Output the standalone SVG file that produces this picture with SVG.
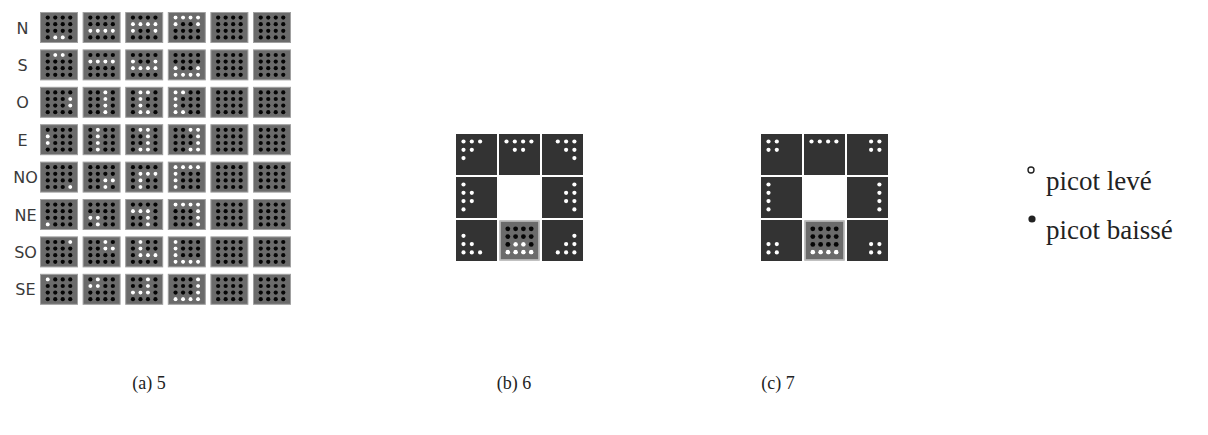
<svg xmlns="http://www.w3.org/2000/svg" width="1208" height="435" viewBox="0 0 1208 435">
<style>
.cell{fill:#6b6b6b;stroke:#a0a0a0;stroke-width:1}
.k{fill:#050505}
.w{fill:#ffffff}
.dk{fill:#333333}
.pw{fill:#ffffff}
.lbl{font-family:"DejaVu Sans",sans-serif;font-size:16px;fill:#3a3a3a;text-anchor:middle}
.cap{font-family:"Liberation Serif",serif;font-size:18px;fill:#222;text-anchor:middle}
.leg{font-family:"Liberation Serif",serif;font-size:27px;fill:#222}
</style>
<defs>
<g id="cb">
<rect x="0.5" y="0.5" width="37" height="30" class="cell"/>
<g class="k">
<circle cx="7.75" cy="5.6" r="2.1"/><circle cx="15.25" cy="5.6" r="2.1"/><circle cx="22.75" cy="5.6" r="2.1"/><circle cx="30.25" cy="5.6" r="2.1"/>
<circle cx="7.75" cy="12.2" r="2.1"/><circle cx="15.25" cy="12.2" r="2.1"/><circle cx="22.75" cy="12.2" r="2.1"/><circle cx="30.25" cy="12.2" r="2.1"/>
<circle cx="7.75" cy="18.8" r="2.1"/><circle cx="15.25" cy="18.8" r="2.1"/><circle cx="22.75" cy="18.8" r="2.1"/><circle cx="30.25" cy="18.8" r="2.1"/>
<circle cx="7.75" cy="25.4" r="2.1"/><circle cx="15.25" cy="25.4" r="2.1"/><circle cx="22.75" cy="25.4" r="2.1"/><circle cx="30.25" cy="25.4" r="2.1"/>
</g>
</g>
<g id="sq">
<rect x="0.5" y="0.5" width="39" height="39" class="cell"/>
<g class="k">
<circle cx="8.3" cy="8.3" r="2.4"/><circle cx="16.1" cy="8.3" r="2.4"/><circle cx="23.9" cy="8.3" r="2.4"/><circle cx="31.7" cy="8.3" r="2.4"/>
<circle cx="8.3" cy="16.1" r="2.4"/><circle cx="16.1" cy="16.1" r="2.4"/><circle cx="23.9" cy="16.1" r="2.4"/><circle cx="31.7" cy="16.1" r="2.4"/>
<circle cx="8.3" cy="23.9" r="2.4"/><circle cx="16.1" cy="23.9" r="2.4"/><circle cx="23.9" cy="23.9" r="2.4"/><circle cx="31.7" cy="23.9" r="2.4"/>
<circle cx="8.3" cy="31.7" r="2.4"/><circle cx="16.1" cy="31.7" r="2.4"/><circle cx="23.9" cy="31.7" r="2.4"/><circle cx="31.7" cy="31.7" r="2.4"/>
</g>
</g>
<rect id="db" width="41" height="41" class="dk"/>
</defs>
<rect width="1208" height="435" fill="#fff"/>

<g id="panel-a">
<g id="row-N">
<text class="lbl" x="22.5" y="33.5">N</text>
<g transform="translate(40,12)"><use href="#cb"/><g class="w"><circle cx="15.25" cy="25.4" r="2.1"/><circle cx="22.75" cy="25.4" r="2.1"/></g></g>
<g transform="translate(82.6,12)"><use href="#cb"/><g class="w"><circle cx="7.75" cy="18.8" r="2.1"/><circle cx="15.25" cy="18.8" r="2.1"/><circle cx="22.75" cy="18.8" r="2.1"/><circle cx="30.25" cy="18.8" r="2.1"/></g></g>
<g transform="translate(125.2,12)"><use href="#cb"/><g class="w"><circle cx="7.75" cy="12.2" r="2.1"/><circle cx="15.25" cy="12.2" r="2.1"/><circle cx="22.75" cy="12.2" r="2.1"/><circle cx="30.25" cy="12.2" r="2.1"/><circle cx="7.75" cy="18.8" r="2.1"/><circle cx="30.25" cy="18.8" r="2.1"/></g></g>
<g transform="translate(167.8,12)"><use href="#cb"/><g class="w"><circle cx="7.75" cy="5.6" r="2.1"/><circle cx="15.25" cy="5.6" r="2.1"/><circle cx="22.75" cy="5.6" r="2.1"/><circle cx="30.25" cy="5.6" r="2.1"/><circle cx="7.75" cy="12.2" r="2.1"/><circle cx="30.25" cy="12.2" r="2.1"/></g></g>
<use href="#cb" x="210.4" y="12"/><use href="#cb" x="253" y="12"/>
</g>
<g id="row-S">
<text class="lbl" x="22.5" y="70.9">S</text>
<g transform="translate(40,49.4)"><use href="#cb"/><g class="w"><circle cx="15.25" cy="5.6" r="2.1"/><circle cx="22.75" cy="5.6" r="2.1"/></g></g>
<g transform="translate(82.6,49.4)"><use href="#cb"/><g class="w"><circle cx="7.75" cy="12.2" r="2.1"/><circle cx="15.25" cy="12.2" r="2.1"/><circle cx="22.75" cy="12.2" r="2.1"/><circle cx="30.25" cy="12.2" r="2.1"/></g></g>
<g transform="translate(125.2,49.4)"><use href="#cb"/><g class="w"><circle cx="7.75" cy="18.8" r="2.1"/><circle cx="15.25" cy="18.8" r="2.1"/><circle cx="22.75" cy="18.8" r="2.1"/><circle cx="30.25" cy="18.8" r="2.1"/><circle cx="7.75" cy="12.2" r="2.1"/><circle cx="30.25" cy="12.2" r="2.1"/></g></g>
<g transform="translate(167.8,49.4)"><use href="#cb"/><g class="w"><circle cx="7.75" cy="25.4" r="2.1"/><circle cx="15.25" cy="25.4" r="2.1"/><circle cx="22.75" cy="25.4" r="2.1"/><circle cx="30.25" cy="25.4" r="2.1"/><circle cx="7.75" cy="18.8" r="2.1"/><circle cx="30.25" cy="18.8" r="2.1"/></g></g>
<use href="#cb" x="210.4" y="49.4"/><use href="#cb" x="253" y="49.4"/>
</g>
<g id="row-O">
<text class="lbl" x="22.5" y="108.3">O</text>
<g transform="translate(40,86.8)"><use href="#cb"/><g class="w"><circle cx="30.25" cy="12.2" r="2.1"/><circle cx="30.25" cy="18.8" r="2.1"/></g></g>
<g transform="translate(82.6,86.8)"><use href="#cb"/><g class="w"><circle cx="22.75" cy="5.6" r="2.1"/><circle cx="22.75" cy="12.2" r="2.1"/><circle cx="22.75" cy="18.8" r="2.1"/><circle cx="22.75" cy="25.4" r="2.1"/></g></g>
<g transform="translate(125.2,86.8)"><use href="#cb"/><g class="w"><circle cx="15.25" cy="5.6" r="2.1"/><circle cx="15.25" cy="12.2" r="2.1"/><circle cx="15.25" cy="18.8" r="2.1"/><circle cx="15.25" cy="25.4" r="2.1"/><circle cx="22.75" cy="5.6" r="2.1"/><circle cx="22.75" cy="25.4" r="2.1"/></g></g>
<g transform="translate(167.8,86.8)"><use href="#cb"/><g class="w"><circle cx="7.75" cy="5.6" r="2.1"/><circle cx="7.75" cy="12.2" r="2.1"/><circle cx="7.75" cy="18.8" r="2.1"/><circle cx="7.75" cy="25.4" r="2.1"/><circle cx="15.25" cy="5.6" r="2.1"/><circle cx="15.25" cy="25.4" r="2.1"/></g></g>
<use href="#cb" x="210.4" y="86.8"/><use href="#cb" x="253" y="86.8"/>
</g>
<g id="row-E">
<text class="lbl" x="22.5" y="145.7">E</text>
<g transform="translate(40,124.2)"><use href="#cb"/><g class="w"><circle cx="7.75" cy="12.2" r="2.1"/><circle cx="7.75" cy="18.8" r="2.1"/></g></g>
<g transform="translate(82.6,124.2)"><use href="#cb"/><g class="w"><circle cx="15.25" cy="5.6" r="2.1"/><circle cx="15.25" cy="12.2" r="2.1"/><circle cx="15.25" cy="18.8" r="2.1"/><circle cx="15.25" cy="25.4" r="2.1"/></g></g>
<g transform="translate(125.2,124.2)"><use href="#cb"/><g class="w"><circle cx="22.75" cy="5.6" r="2.1"/><circle cx="22.75" cy="12.2" r="2.1"/><circle cx="22.75" cy="18.8" r="2.1"/><circle cx="22.75" cy="25.4" r="2.1"/><circle cx="15.25" cy="5.6" r="2.1"/><circle cx="15.25" cy="25.4" r="2.1"/></g></g>
<g transform="translate(167.8,124.2)"><use href="#cb"/><g class="w"><circle cx="30.25" cy="5.6" r="2.1"/><circle cx="30.25" cy="12.2" r="2.1"/><circle cx="30.25" cy="18.8" r="2.1"/><circle cx="30.25" cy="25.4" r="2.1"/><circle cx="22.75" cy="5.6" r="2.1"/><circle cx="22.75" cy="25.4" r="2.1"/></g></g>
<use href="#cb" x="210.4" y="124.2"/><use href="#cb" x="253" y="124.2"/>
</g>
<g id="row-NO">
<text class="lbl" x="25.5" y="183.1">NO</text>
<g transform="translate(40,161.6)"><use href="#cb"/><g class="w"><circle cx="30.25" cy="25.4" r="2.1"/></g></g>
<g transform="translate(82.6,161.6)"><use href="#cb"/><g class="w"><circle cx="22.75" cy="18.8" r="2.1"/><circle cx="30.25" cy="18.8" r="2.1"/><circle cx="22.75" cy="25.4" r="2.1"/></g></g>
<g transform="translate(125.2,161.6)"><use href="#cb"/><g class="w"><circle cx="15.25" cy="12.2" r="2.1"/><circle cx="22.75" cy="12.2" r="2.1"/><circle cx="30.25" cy="12.2" r="2.1"/><circle cx="15.25" cy="18.8" r="2.1"/><circle cx="15.25" cy="25.4" r="2.1"/></g></g>
<g transform="translate(167.8,161.6)"><use href="#cb"/><g class="w"><circle cx="7.75" cy="5.6" r="2.1"/><circle cx="15.25" cy="5.6" r="2.1"/><circle cx="22.75" cy="5.6" r="2.1"/><circle cx="30.25" cy="5.6" r="2.1"/><circle cx="7.75" cy="12.2" r="2.1"/><circle cx="7.75" cy="18.8" r="2.1"/><circle cx="7.75" cy="25.4" r="2.1"/></g></g>
<use href="#cb" x="210.4" y="161.6"/><use href="#cb" x="253" y="161.6"/>
</g>
<g id="row-NE">
<text class="lbl" x="25.5" y="220.5">NE</text>
<g transform="translate(40,199)"><use href="#cb"/><g class="w"><circle cx="7.75" cy="25.4" r="2.1"/></g></g>
<g transform="translate(82.6,199)"><use href="#cb"/><g class="w"><circle cx="7.75" cy="18.8" r="2.1"/><circle cx="15.25" cy="18.8" r="2.1"/><circle cx="15.25" cy="25.4" r="2.1"/></g></g>
<g transform="translate(125.2,199)"><use href="#cb"/><g class="w"><circle cx="7.75" cy="12.2" r="2.1"/><circle cx="15.25" cy="12.2" r="2.1"/><circle cx="22.75" cy="12.2" r="2.1"/><circle cx="22.75" cy="18.8" r="2.1"/><circle cx="22.75" cy="25.4" r="2.1"/></g></g>
<g transform="translate(167.8,199)"><use href="#cb"/><g class="w"><circle cx="7.75" cy="5.6" r="2.1"/><circle cx="15.25" cy="5.6" r="2.1"/><circle cx="22.75" cy="5.6" r="2.1"/><circle cx="30.25" cy="5.6" r="2.1"/><circle cx="30.25" cy="12.2" r="2.1"/><circle cx="30.25" cy="18.8" r="2.1"/><circle cx="30.25" cy="25.4" r="2.1"/></g></g>
<use href="#cb" x="210.4" y="199"/><use href="#cb" x="253" y="199"/>
</g>
<g id="row-SO">
<text class="lbl" x="25.5" y="257.9">SO</text>
<g transform="translate(40,236.4)"><use href="#cb"/><g class="w"><circle cx="30.25" cy="5.6" r="2.1"/></g></g>
<g transform="translate(82.6,236.4)"><use href="#cb"/><g class="w"><circle cx="22.75" cy="5.6" r="2.1"/><circle cx="22.75" cy="12.2" r="2.1"/><circle cx="30.25" cy="12.2" r="2.1"/></g></g>
<g transform="translate(125.2,236.4)"><use href="#cb"/><g class="w"><circle cx="15.25" cy="5.6" r="2.1"/><circle cx="15.25" cy="12.2" r="2.1"/><circle cx="15.25" cy="18.8" r="2.1"/><circle cx="22.75" cy="18.8" r="2.1"/><circle cx="30.25" cy="18.8" r="2.1"/></g></g>
<g transform="translate(167.8,236.4)"><use href="#cb"/><g class="w"><circle cx="7.75" cy="25.4" r="2.1"/><circle cx="15.25" cy="25.4" r="2.1"/><circle cx="22.75" cy="25.4" r="2.1"/><circle cx="30.25" cy="25.4" r="2.1"/><circle cx="7.75" cy="5.6" r="2.1"/><circle cx="7.75" cy="12.2" r="2.1"/><circle cx="7.75" cy="18.8" r="2.1"/></g></g>
<use href="#cb" x="210.4" y="236.4"/><use href="#cb" x="253" y="236.4"/>
</g>
<g id="row-SE">
<text class="lbl" x="25.5" y="295.3">SE</text>
<g transform="translate(40,273.8)"><use href="#cb"/><g class="w"><circle cx="7.75" cy="5.6" r="2.1"/></g></g>
<g transform="translate(82.6,273.8)"><use href="#cb"/><g class="w"><circle cx="15.25" cy="5.6" r="2.1"/><circle cx="7.75" cy="12.2" r="2.1"/><circle cx="15.25" cy="12.2" r="2.1"/></g></g>
<g transform="translate(125.2,273.8)"><use href="#cb"/><g class="w"><circle cx="22.75" cy="5.6" r="2.1"/><circle cx="22.75" cy="12.2" r="2.1"/><circle cx="7.75" cy="18.8" r="2.1"/><circle cx="15.25" cy="18.8" r="2.1"/><circle cx="22.75" cy="18.8" r="2.1"/></g></g>
<g transform="translate(167.8,273.8)"><use href="#cb"/><g class="w"><circle cx="7.75" cy="25.4" r="2.1"/><circle cx="15.25" cy="25.4" r="2.1"/><circle cx="22.75" cy="25.4" r="2.1"/><circle cx="30.25" cy="25.4" r="2.1"/><circle cx="30.25" cy="5.6" r="2.1"/><circle cx="30.25" cy="12.2" r="2.1"/><circle cx="30.25" cy="18.8" r="2.1"/></g></g>
<use href="#cb" x="210.4" y="273.8"/><use href="#cb" x="253" y="273.8"/>
</g>
<text id="cap-a" class="cap" x="149" y="389">(a) 5</text>
</g>

<g id="panel-b">
<g id="b-tl" transform="translate(456,134)"><use href="#db"/><g class="pw"><circle cx="7.5" cy="7.5" r="2.1"/><circle cx="15.8" cy="7.5" r="2.1"/><circle cx="24.1" cy="7.5" r="2.1"/><circle cx="7.5" cy="15.8" r="2.1"/><circle cx="15.8" cy="15.8" r="2.1"/><circle cx="7.5" cy="24.1" r="2.1"/></g></g>
<g id="b-tc" transform="translate(499,134)"><use href="#db"/><g class="pw"><circle cx="7.5" cy="7.5" r="2.1"/><circle cx="15.8" cy="7.5" r="2.1"/><circle cx="24.1" cy="7.5" r="2.1"/><circle cx="32.4" cy="7.5" r="2.1"/><circle cx="15.8" cy="15.8" r="2.1"/><circle cx="24.1" cy="15.8" r="2.1"/></g></g>
<g id="b-tr" transform="translate(542,134)"><use href="#db"/><g class="pw"><circle cx="15.8" cy="7.5" r="2.1"/><circle cx="24.1" cy="7.5" r="2.1"/><circle cx="32.4" cy="7.5" r="2.1"/><circle cx="24.1" cy="15.8" r="2.1"/><circle cx="32.4" cy="15.8" r="2.1"/><circle cx="32.4" cy="24.1" r="2.1"/></g></g>
<g id="b-ml" transform="translate(456,177)"><use href="#db"/><g class="pw"><circle cx="7.5" cy="7.5" r="2.1"/><circle cx="7.5" cy="15.8" r="2.1"/><circle cx="15.8" cy="15.8" r="2.1"/><circle cx="7.5" cy="24.1" r="2.1"/><circle cx="15.8" cy="24.1" r="2.1"/><circle cx="7.5" cy="32.4" r="2.1"/></g></g>
<g id="b-mr" transform="translate(542,177)"><use href="#db"/><g class="pw"><circle cx="32.4" cy="7.5" r="2.1"/><circle cx="24.1" cy="15.8" r="2.1"/><circle cx="32.4" cy="15.8" r="2.1"/><circle cx="24.1" cy="24.1" r="2.1"/><circle cx="32.4" cy="24.1" r="2.1"/><circle cx="32.4" cy="32.4" r="2.1"/></g></g>
<g id="b-bl" transform="translate(456,220)"><use href="#db"/><g class="pw"><circle cx="7.5" cy="15.8" r="2.1"/><circle cx="7.5" cy="24.1" r="2.1"/><circle cx="15.8" cy="24.1" r="2.1"/><circle cx="7.5" cy="32.4" r="2.1"/><circle cx="15.8" cy="32.4" r="2.1"/><circle cx="24.1" cy="32.4" r="2.1"/></g></g>
<g id="b-bc" transform="translate(499.5,220.5)"><use href="#sq"/><rect x="0.5" y="0.5" width="39" height="39" fill="none" stroke="#bdbdbd" stroke-width="1.5"/><g class="w"><circle cx="16.1" cy="23.9" r="2.4"/><circle cx="23.9" cy="23.9" r="2.4"/><circle cx="8.3" cy="31.7" r="2.4"/><circle cx="16.1" cy="31.7" r="2.4"/><circle cx="23.9" cy="31.7" r="2.4"/><circle cx="31.7" cy="31.7" r="2.4"/></g></g>
<g id="b-br" transform="translate(542,220)"><use href="#db"/><g class="pw"><circle cx="32.4" cy="15.8" r="2.1"/><circle cx="24.1" cy="24.1" r="2.1"/><circle cx="32.4" cy="24.1" r="2.1"/><circle cx="15.8" cy="32.4" r="2.1"/><circle cx="24.1" cy="32.4" r="2.1"/><circle cx="32.4" cy="32.4" r="2.1"/></g></g>
<text id="cap-b" class="cap" x="514" y="389">(b) 6</text>
</g>

<g id="panel-c">
<g id="c-tl" transform="translate(761,134)"><use href="#db"/><g class="pw"><circle cx="7.5" cy="7.5" r="2.1"/><circle cx="15.8" cy="7.5" r="2.1"/><circle cx="7.5" cy="15.8" r="2.1"/><circle cx="15.8" cy="15.8" r="2.1"/></g></g>
<g id="c-tc" transform="translate(804,134)"><use href="#db"/><g class="pw"><circle cx="7.5" cy="7.5" r="2.1"/><circle cx="15.8" cy="7.5" r="2.1"/><circle cx="24.1" cy="7.5" r="2.1"/><circle cx="32.4" cy="7.5" r="2.1"/></g></g>
<g id="c-tr" transform="translate(847,134)"><use href="#db"/><g class="pw"><circle cx="24.1" cy="7.5" r="2.1"/><circle cx="32.4" cy="7.5" r="2.1"/><circle cx="24.1" cy="15.8" r="2.1"/><circle cx="32.4" cy="15.8" r="2.1"/></g></g>
<g id="c-ml" transform="translate(761,177)"><use href="#db"/><g class="pw"><circle cx="7.5" cy="7.5" r="2.1"/><circle cx="7.5" cy="15.8" r="2.1"/><circle cx="7.5" cy="24.1" r="2.1"/><circle cx="7.5" cy="32.4" r="2.1"/></g></g>
<g id="c-mr" transform="translate(847,177)"><use href="#db"/><g class="pw"><circle cx="32.4" cy="7.5" r="2.1"/><circle cx="32.4" cy="15.8" r="2.1"/><circle cx="32.4" cy="24.1" r="2.1"/><circle cx="32.4" cy="32.4" r="2.1"/></g></g>
<g id="c-bl" transform="translate(761,220)"><use href="#db"/><g class="pw"><circle cx="7.5" cy="24.1" r="2.1"/><circle cx="15.8" cy="24.1" r="2.1"/><circle cx="7.5" cy="32.4" r="2.1"/><circle cx="15.8" cy="32.4" r="2.1"/></g></g>
<g id="c-bc" transform="translate(804.5,220.5)"><use href="#sq"/><rect x="0.5" y="0.5" width="39" height="39" fill="none" stroke="#bdbdbd" stroke-width="1.5"/><g class="w"><circle cx="8.3" cy="31.7" r="2.4"/><circle cx="16.1" cy="31.7" r="2.4"/><circle cx="23.9" cy="31.7" r="2.4"/><circle cx="31.7" cy="31.7" r="2.4"/></g></g>
<g id="c-br" transform="translate(847,220)"><use href="#db"/><g class="pw"><circle cx="24.1" cy="24.1" r="2.1"/><circle cx="32.4" cy="24.1" r="2.1"/><circle cx="24.1" cy="32.4" r="2.1"/><circle cx="32.4" cy="32.4" r="2.1"/></g></g>
<text id="cap-c" class="cap" x="778" y="389">(c) 7</text>
</g>

<g id="legend">
<g id="leg-up"><circle cx="1031" cy="170" r="3" fill="#fff" stroke="#222" stroke-width="1.4"/><text class="leg" x="1046" y="190">picot levé</text></g>
<g id="leg-down"><circle cx="1032" cy="219" r="3.6" fill="#222"/><text class="leg" x="1046" y="239">picot baissé</text></g>
</g>
<g id="connectors"/>
</svg>
